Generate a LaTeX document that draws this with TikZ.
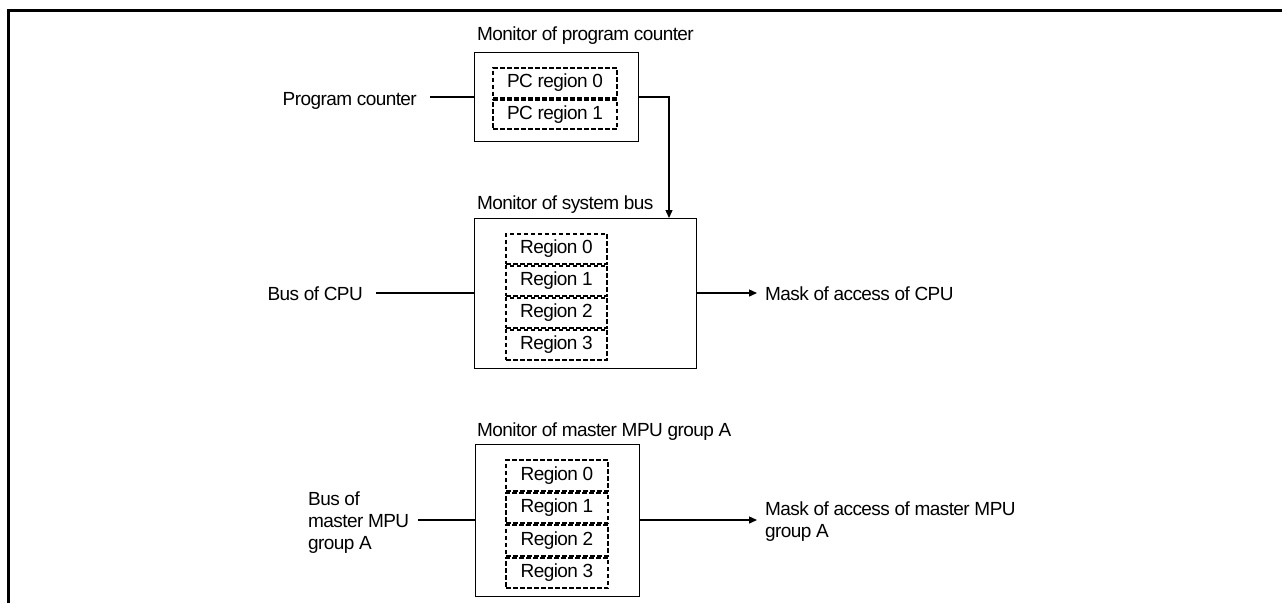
\documentclass[tikz,border=0pt]{standalone}
\usepackage{fontspec}
\setmainfont{Liberation Sans}[LetterSpace=-3]
\usetikzlibrary{arrows.meta}
\begin{document}
\begin{tikzpicture}[x=1pt,y=-1pt,
  every node/.style={font=\fontsize{19}{22}\selectfont, inner sep=0pt},
  mainbox/.style={draw, line width=1.4pt, anchor=north west},
  dbox/.style={draw, dashed, dash pattern=on 4.5pt off 2.5pt, line width=2pt, minimum width=#1, minimum height=30pt},
  lbl/.style={anchor=base west},
  conn/.style={line width=1.3pt},
  arr/.style={line width=1.3pt, -{Triangle[length=8pt,width=7pt]}}]
\useasboundingbox (0,0) rectangle (1282,603);
% frame
\draw[line width=3pt] (8.5,603) -- (8.5,10.5) -- (1282,10.5);

% program counter monitor
\node[mainbox, minimum width=164pt, minimum height=89pt] (pcbox) at (474,52) {};
\node[lbl] (pctitle) at (477,40) {Monitor of program counter};
\node[dbox=124pt, minimum height=29.5pt] (pc0) at (555,82.75) {PC region 0};
\node[dbox=124pt, minimum height=29.5pt, anchor=north] (pc1) at (pc0.south) {PC region 1};
\node[anchor=base east] (pclabel) at (417,105) {Program counter};
\coordinate (pcin) at (430,97);
\draw[conn] (pcin) -- (pcin -| pcbox.west);
\coordinate (pcturn) at (669,97);

% system bus monitor
\node[mainbox, minimum width=222pt, minimum height=150pt] (sysbox) at (474,218) {};
\node[lbl] (systitle) at (477,209) {Monitor of system bus};
\node[dbox=101pt] (s0) at (556.5,248.5) {Region 0};
\node[dbox=101pt, anchor=north] (s1) at (s0.south) {Region 1};
\node[dbox=101pt, anchor=north] (s2) at (s1.south) {Region 2};
\node[dbox=101pt, anchor=north] (s3) at (s2.south) {Region 3};
\draw[arr] (pcbox.east |- pcturn) -- (pcturn) -- (pcturn |- sysbox.north);
\node[anchor=base east] (cpubus) at (363,300) {Bus of CPU};
\coordinate (cpuin) at (376,293);
\draw[conn] (cpuin) -- (cpuin -| sysbox.west);
\node[anchor=base west] (cpumask) at (765,300) {Mask of access of CPU};
\coordinate (cpuout) at (757,293);
\draw[arr] (cpuout -| sysbox.east) -- (cpuout);

% master MPU group A monitor
\node[mainbox, minimum width=164pt, minimum height=152pt] (mpubox) at (475,444) {};
\node[lbl] (mputitle) at (477,436) {Monitor of master MPU group A};
\node[dbox=102pt, minimum height=30.5pt] (m0) at (557,475.25) {Region 0};
\node[dbox=102pt, minimum height=30.5pt, anchor=north] (m1) at (m0.south) {Region 1};
\node[dbox=102pt, minimum height=30.5pt, anchor=north] (m2) at (m1.south) {Region 2};
\node[dbox=102pt, minimum height=30.5pt, anchor=north] (m3) at (m2.south) {Region 3};
\node[anchor=west, align=left] (mpubus) at (308,523) {Bus of\\master MPU\\group A};
\coordinate (mpuin) at (418,520);
\draw[conn] (mpuin) -- (mpuin -| mpubox.west);
\node[anchor=west, align=left] (mpumask) at (765,522) {Mask of access of master MPU\\group A};
\coordinate (mpuout) at (757,520);
\draw[arr] (mpuout -| mpubox.east) -- (mpuout);
\end{tikzpicture}
\end{document}
